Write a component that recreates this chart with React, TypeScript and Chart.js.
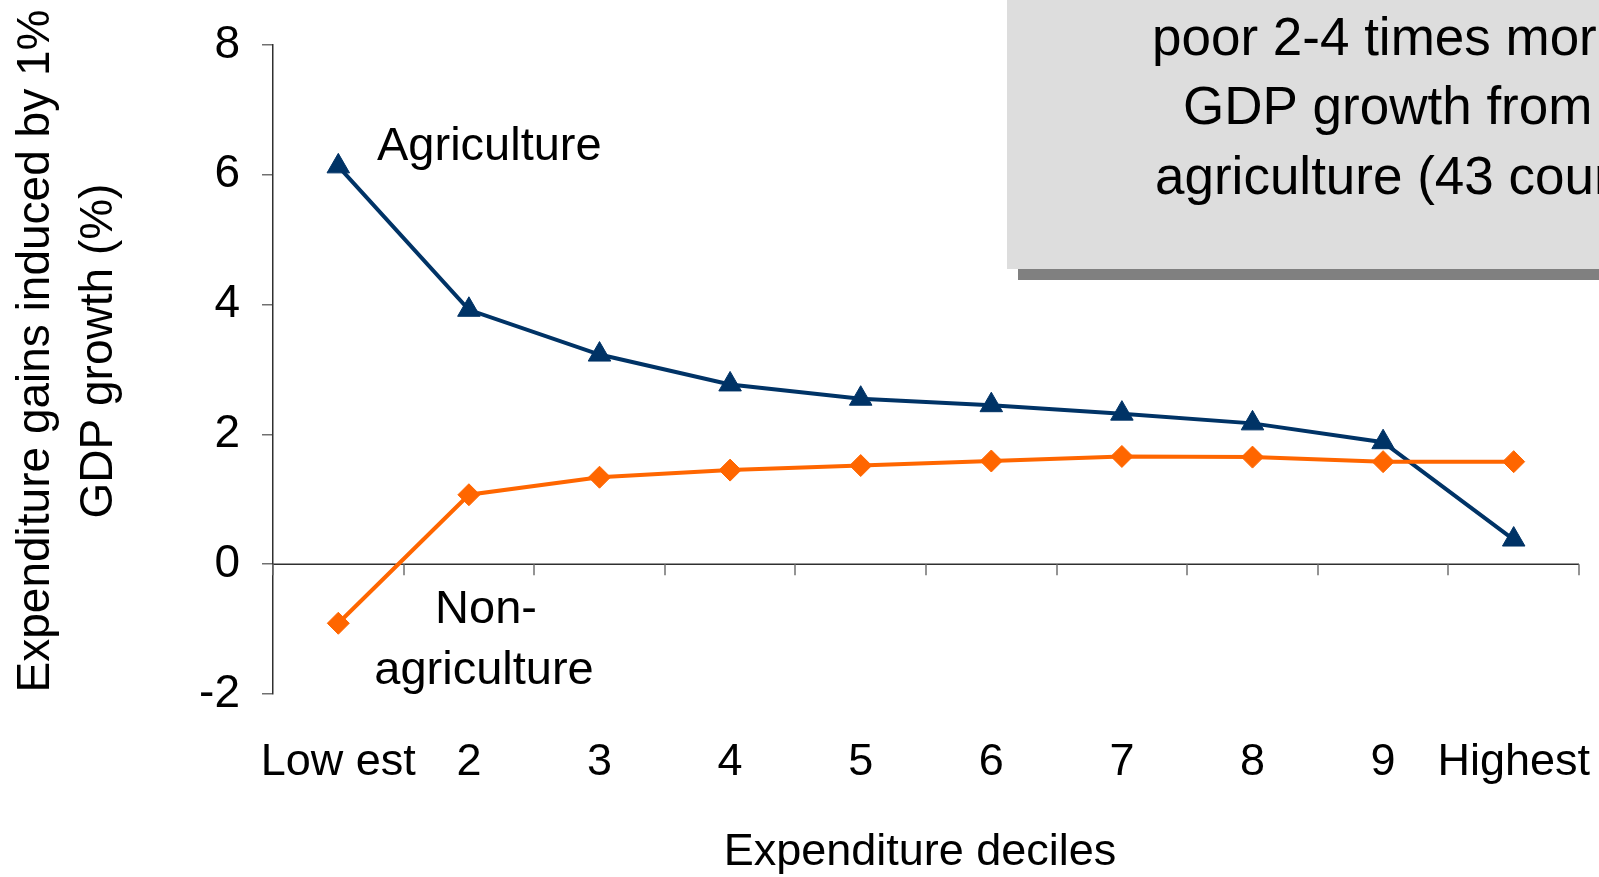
import { useEffect, useRef } from 'react';
import { Chart, registerables } from 'chart.js';

Chart.register(...registerables);

const categories = ['Low est', '2', '3', '4', '5', '6', '7', '8', '9', 'Highest'];
const agriculture = [6.13, 3.92, 3.23, 2.77, 2.55, 2.45, 2.32, 2.17, 1.88, 0.38];
const nonAgriculture = [-0.91, 1.07, 1.34, 1.45, 1.52, 1.59, 1.66, 1.65, 1.58, 1.58];
const yTicks = [-2, 0, 2, 4, 6, 8];
const yTitleLines = ['Expenditure gains induced by 1%', 'GDP growth (%)'];
const xTitle = 'Expenditure deciles';
const boxLines = ['poor 2-4 times more', 'GDP growth from', 'agriculture (43 countries)'];
const seriesLabels = ['Agriculture', 'Non-', 'agriculture'];

const FONT = '"Liberation Sans", Arial, sans-serif';
const NAVY = '#003366';
const ORANGE = '#FF6600';

const decorPlugin = {
  id: 'decor',
  beforeDatasetsDraw(chart: any) {
    const { ctx, chartArea, scales } = chart;
    const x = scales.x;
    const y = scales.y;
    const y0 = y.getPixelForValue(0);
    ctx.save();
    ctx.strokeStyle = '#303030';
    ctx.lineWidth = 1.5;
    ctx.beginPath();
    ctx.moveTo(chartArea.left, y0);
    ctx.lineTo(chartArea.right, y0);
    ctx.stroke();
    ctx.strokeStyle = '#707070';
    ctx.lineWidth = 1.5;
    for (let i = 0; i <= categories.length; i++) {
      const px = Math.round(x.getPixelForValue(i - 0.5));
      ctx.beginPath();
      ctx.moveTo(px, y0);
      ctx.lineTo(px, y0 + 11);
      ctx.stroke();
    }
    ctx.restore();
  },
  afterDraw(chart: any) {
    const { ctx } = chart;
    ctx.save();
    ctx.fillStyle = '#808080';
    ctx.fillRect(1018, 269, 700, 11);
    ctx.fillStyle = '#DDDDDD';
    ctx.fillRect(1007, 0, 700, 269);
    ctx.fillStyle = '#000000';
    ctx.font = `53px ${FONT}`;
    ctx.textAlign = 'left';
    ctx.textBaseline = 'alphabetic';
    ctx.fillText(boxLines[0], 1152, 55);
    ctx.fillText(boxLines[1], 1183, 124);
    ctx.fillText(boxLines[2], 1155, 194);

    ctx.font = `47px ${FONT}`;
    ctx.textAlign = 'left';
    ctx.fillText(seriesLabels[0], 377, 160);
    ctx.textAlign = 'center';
    ctx.fillText(seriesLabels[1], 486, 623);
    ctx.fillText(seriesLabels[2], 484, 684);

    ctx.font = `45px ${FONT}`;
    ctx.textAlign = 'center';
    ctx.fillText(xTitle, 920, 865);

    ctx.font = `46px ${FONT}`;
    const baselines = [49, 112];
    yTitleLines.forEach((line, i) => {
      ctx.save();
      ctx.translate(baselines[i], 351);
      ctx.rotate(-Math.PI / 2);
      ctx.textAlign = 'center';
      ctx.textBaseline = 'alphabetic';
      ctx.fillText(line, 0, 0);
      ctx.restore();
    });
    ctx.restore();
  },
};

export default function App() {
  const ref = useRef<HTMLCanvasElement | null>(null);
  useEffect(() => {
    if (!ref.current) return;
    const chart = new Chart(ref.current, {
      type: 'line',
      data: {
        labels: categories,
        datasets: [
          {
            label: 'Agriculture',
            data: agriculture,
            order: 2,
            borderColor: NAVY,
            backgroundColor: NAVY,
            borderWidth: 4,
            tension: 0,
            pointStyle: 'triangle',
            pointRadius: 13,
            pointBorderWidth: 1,
            pointBackgroundColor: NAVY,
            pointBorderColor: NAVY,
            clip: false,
          },
          {
            label: 'Non-agriculture',
            data: nonAgriculture,
            order: 1,
            borderColor: ORANGE,
            backgroundColor: ORANGE,
            borderWidth: 4,
            tension: 0,
            pointStyle: 'rectRot',
            pointRadius: 11,
            pointBorderWidth: 1,
            pointBackgroundColor: ORANGE,
            pointBorderColor: ORANGE,
            clip: false,
          },
        ],
      },
      options: {
        animation: false,
        responsive: false,
        devicePixelRatio: 1,
        layout: { padding: { top: 45, right: 20, left: 0, bottom: 0 } },
        plugins: {
          legend: { display: false },
          tooltip: { enabled: false },
        },
        scales: {
          x: {
            type: 'category',
            offset: true,
            grid: { display: false, drawTicks: false },
            border: { display: false },
            ticks: {
              color: '#000000',
              font: { family: FONT, size: 45 },
              padding: 42,
              maxRotation: 0,
              autoSkip: false,
            },
            afterFit: (s: any) => {
              s.height = 183;
              s.paddingLeft = 0;
              s.paddingRight = 0;
            },
          },
          y: {
            min: -2,
            max: 8,
            grid: {
              drawOnChartArea: false,
              drawTicks: true,
              tickLength: 11,
              color: '#707070',
              lineWidth: 1.5,
            },
            border: { display: true, color: '#303030', width: 1.5 },
            ticks: {
              color: '#000000',
              font: { family: FONT, size: 46 },
              padding: 22,
            },
            afterBuildTicks: (s: any) => {
              s.ticks = yTicks.map((v) => ({ value: v }));
            },
            afterFit: (s: any) => {
              s.width = 273;
              s.paddingTop = 0;
              s.paddingBottom = 0;
            },
          },
        },
      },
      plugins: [decorPlugin],
    });
    return () => chart.destroy();
  }, []);
  return (
    <div style={{ position: 'absolute', left: 0, top: 0, width: 1599, height: 877 }}>
      <canvas ref={ref} width={1599} height={877} />
    </div>
  );
}
